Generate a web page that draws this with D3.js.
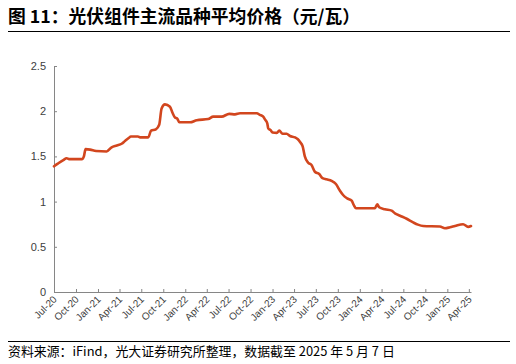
<!DOCTYPE html>
<html><head><meta charset="utf-8">
<script src="https://cdn.jsdelivr.net/npm/d3@7"></script>
<style>
html,body{margin:0;padding:0;background:#fff;}
svg{display:block;}
</style></head>
<body>
<svg id="c" width="516" height="364"></svg>
<script>
const titleText = "图 11：光伏组件主流品种平均价格（元/瓦）";
const sourceText = "资料来源：iFind，光大证券研究所整理，数据截至 2025 年 5 月 7 日";
const dates = ["2020-07-01","2020-07-17","2020-08-09","2020-08-23","2020-09-02","2020-10-27","2020-11-03","2020-11-10","2020-11-29","2020-12-24",
"2021-02-06","2021-02-27","2021-03-21","2021-04-10","2021-04-24","2021-05-08","2021-05-19","2021-06-17","2021-06-26","2021-07-30",
"2021-08-11","2021-08-31","2021-09-14","2021-09-24","2021-10-08","2021-10-29","2021-11-09","2021-11-19","2021-11-28","2021-12-07",
"2022-01-21","2022-02-18","2022-04-07","2022-04-28","2022-06-02","2022-07-04","2022-07-28","2022-08-18","2022-10-27","2022-11-09",
"2022-11-23","2022-11-30","2022-12-10","2022-12-14","2022-12-24","2023-01-01","2023-01-19","2023-01-29","2023-02-12","2023-03-01",
"2023-03-15","2023-04-05","2023-04-17","2023-04-26","2023-05-07","2023-05-16","2023-05-30","2023-06-13","2023-06-27","2023-07-15",
"2023-07-29","2023-08-15","2023-09-05","2023-09-23","2023-10-10","2023-10-23","2023-11-09","2023-11-28","2023-12-07","2023-12-16",
"2024-03-04","2024-03-14","2024-03-22","2024-04-15","2024-05-13","2024-05-27","2024-06-17","2024-07-15","2024-08-11","2024-08-31",
"2024-09-22","2024-12-01","2024-12-22","2025-01-12","2025-02-02","2025-03-08","2025-03-29","2025-04-10"];
const prices = [1.39,1.42,1.46,1.48,1.47,1.47,1.50,1.58,1.575,1.56,
1.555,1.60,1.62,1.64,1.67,1.70,1.72,1.72,1.71,1.71,
1.785,1.80,1.85,2.03,2.075,2.05,1.98,1.93,1.92,1.877,
1.877,1.90,1.913,1.94,1.94,1.97,1.965,1.977,1.977,1.96,
1.94,1.91,1.866,1.81,1.79,1.765,1.76,1.785,1.75,1.75,
1.726,1.71,1.69,1.66,1.61,1.50,1.43,1.405,1.33,1.305,
1.26,1.247,1.23,1.195,1.12,1.073,1.036,1.01,0.96,0.926,
0.926,0.97,0.937,0.915,0.90,0.87,0.844,0.81,0.77,0.745,
0.73,0.725,0.705,0.716,0.73,0.75,0.72,0.73];
const yTicks = [0,0.5,1,1.5,2,2.5];
const xTickLabels = ["Jul-20","Oct-20","Jan-21","Apr-21","Jul-21","Oct-21","Jan-22","Apr-22","Jul-22","Oct-22",
"Jan-23","Apr-23","Jul-23","Oct-23","Jan-24","Apr-24","Jul-24","Oct-24","Jan-25","Apr-25"];

const parse = d3.timeParse("%Y-%m-%d");
const fmt = d3.timeFormat("%b-%y");
const data = dates.map((d,i)=>({date:parse(d), v:prices[i]}));

const svg = d3.select("#c");
const mLeft = 54, mRight = 471, mTop = 66, mBottom = 292;

svg.append("text").attr("x",8).attr("y",23)
  .attr("font-family","'Noto Sans CJK SC', sans-serif").attr("font-weight","bold")
  .attr("font-size",17.8).attr("fill","#000").text(titleText);
svg.append("line").attr("x1",8).attr("x2",510).attr("y1",31.5).attr("y2",31.5)
  .attr("stroke","#000").attr("stroke-width",1);

svg.append("line").attr("x1",8).attr("x2",510).attr("y1",341.5).attr("y2",341.5)
  .attr("stroke","#000").attr("stroke-width",1);
svg.append("text").attr("x",8).attr("y",356)
  .attr("font-family","'Noto Sans CJK SC', sans-serif")
  .attr("font-size",12.9).attr("fill","#000").text(sourceText);

const x = d3.scaleTime().domain([parse("2020-07-01"), parse("2025-04-10")]).range([mLeft,mRight]);
const y = d3.scaleLinear().domain([0,2.5]).range([mBottom,mTop]);

const tickDates = xTickLabels.map(s=>d3.timeParse("%b-%y")(s));

const yAxis = svg.append("g").attr("transform",`translate(${mLeft},0)`)
  .call(d3.axisLeft(y).tickValues(yTicks).tickSize(-3).tickSizeOuter(0).tickPadding(8)
    .tickFormat(d=>d3.format("")(d)));
yAxis.select(".domain").attr("stroke","#868686");
yAxis.selectAll(".tick line").attr("stroke","#868686");
yAxis.selectAll("text").attr("font-family","'Liberation Sans', Arial, sans-serif")
  .attr("font-size",11).attr("fill","#404040");

const xAxis = svg.append("g").attr("transform",`translate(0,${mBottom})`)
  .call(d3.axisBottom(x).tickValues(tickDates).tickSize(-3).tickSizeOuter(0).tickFormat(fmt));
xAxis.select(".domain").attr("stroke","#868686");
xAxis.selectAll(".tick line").attr("stroke","#868686");
xAxis.selectAll("text")
  .attr("font-family","'Liberation Sans', Arial, sans-serif")
  .attr("font-size",10).attr("fill","#404040")
  .attr("text-anchor","end")
  .attr("dy",null).attr("y",0)
  .attr("transform","translate(3,8) rotate(-45)");

const line = d3.line().x(d=>x(d.date)).y(d=>y(d.v)).curve(d3.curveMonotoneX);
svg.append("path").datum(data).attr("d",line)
  .attr("fill","none").attr("stroke","#D2461E").attr("stroke-width",2.6)
  .attr("stroke-linejoin","round").attr("stroke-linecap","round");
</script>
</body></html>
